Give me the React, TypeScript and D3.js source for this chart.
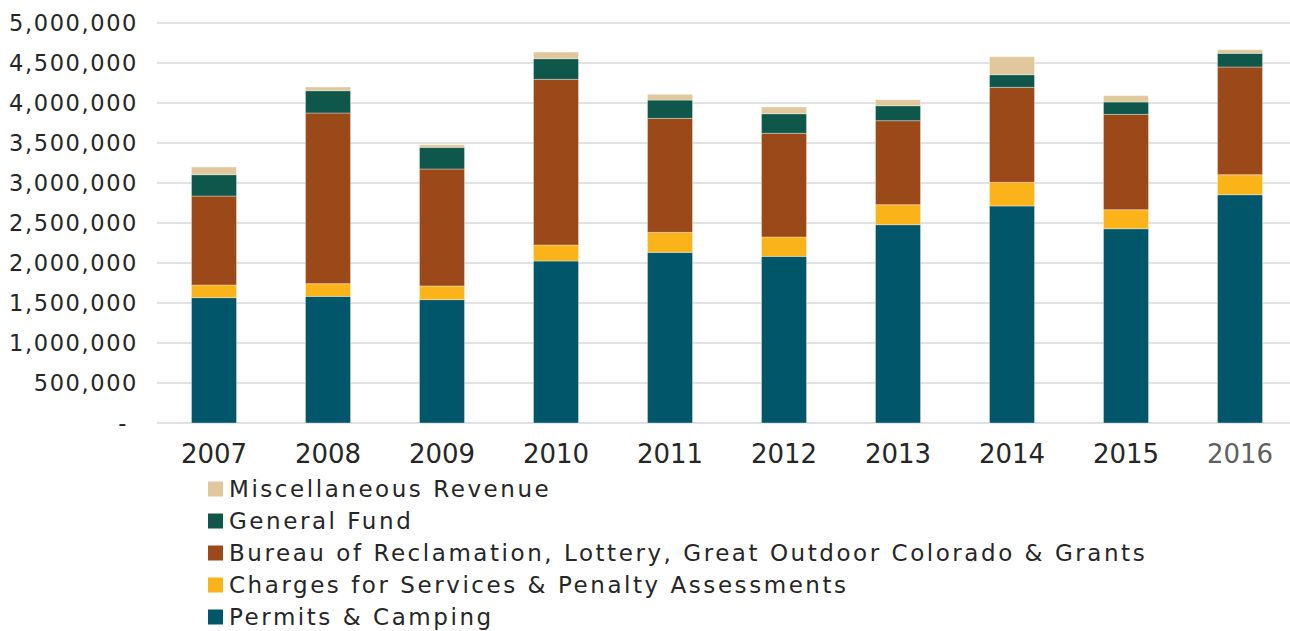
import React from "react";
import * as d3 from "d3";

const years = ["2007", "2008", "2009", "2010", "2011", "2012", "2013", "2014", "2015", "2016"];
const permitsCamping = [1567000, 1583000, 1542000, 2025000, 2133000, 2083000, 2479000, 2713000, 2429000, 2854000];
const chargesServices = [158000, 159000, 171000, 200000, 250000, 242000, 250000, 295000, 237000, 250000];
const bureauGrants = [1112000, 2133000, 1462000, 2071000, 1425000, 1296000, 1050000, 1188000, 1192000, 1346000];
const generalFund = [267000, 279000, 271000, 258000, 229000, 245000, 187000, 158000, 155000, 171000];
const miscRevenue = [96000, 46000, 33000, 83000, 71000, 84000, 75000, 225000, 79000, 45000];
const yTicks = [0, 500000, 1000000, 1500000, 2000000, 2500000, 3000000, 3500000, 4000000, 4500000, 5000000];

const seriesKeys = ["permits", "charges", "bureau", "general", "misc"];
const seriesNames: Record<string, string> = {
  permits: "Permits & Camping",
  charges: "Charges for Services & Penalty Assessments",
  bureau: "Bureau of Reclamation, Lottery, Great Outdoor Colorado & Grants",
  general: "General Fund",
  misc: "Miscellaneous Revenue",
};
const colors: Record<string, string> = {
  permits: "#02566A",
  charges: "#FAB318",
  bureau: "#9C4919",
  general: "#0E574A",
  misc: "#E0C89C",
};
const legendOrder = ["misc", "general", "bureau", "charges", "permits"];

const W = 1290;
const H = 631;

export default function App() {
  const rows = years.map((y, i) => ({
    year: y,
    permits: permitsCamping[i],
    charges: chargesServices[i],
    bureau: bureauGrants[i],
    general: generalFund[i],
    misc: miscRevenue[i],
  }));
  const stack = d3.stack<any>().keys(seriesKeys);
  const layers = stack(rows);

  const x = d3.scaleBand<string>().domain(years).range([157, 1297]).paddingInner(0.605).paddingOuter(0.3025);
  const y = d3.scaleLinear().domain([0, 5000000]).range([423, 23]);
  const fmt = d3.format(",");
  const font = "'DejaVu Sans', Verdana, sans-serif";

  return (
    <svg width={W} height={H} style={{ position: "absolute", left: 0, top: 0, background: "#fff" }}>
      <g>
        {yTicks.map((t) => (
          <line key={t} x1={157} x2={W} y1={y(t)} y2={y(t)} stroke="#d9d9d9" strokeWidth={1.5} />
        ))}
      </g>
      <g fontFamily={font} fontSize={22.5} fill="#262626" letterSpacing={1.6}>
        {yTicks.map((t) => (
          <text key={t} x={t === 0 ? 128 : 138} y={y(t)} dy="0.36em" textAnchor="end">
            {t === 0 ? "-" : fmt(t)}
          </text>
        ))}
      </g>
      <g>
        {layers.map((layer) => (
          <g key={layer.key} fill={colors[layer.key]}>
            {layer.map((d, i) => (
              <rect
                key={i}
                x={x(years[i])}
                y={y(d[1])}
                width={x.bandwidth()}
                height={y(d[0]) - y(d[1])}
                stroke="rgba(255,255,255,0.35)"
                strokeWidth={1}
              />
            ))}
          </g>
        ))}
      </g>
      <g fontFamily={font} fontSize={26}>
        {years.map((yr, i) => (
          <text
            key={yr}
            x={(x(yr) as number) + x.bandwidth() / 2}
            y={462.5}
            textAnchor="middle"
            fill={i === years.length - 1 ? "#606060" : "#262626"}
          >
            {yr}
          </text>
        ))}
      </g>
      <g fontFamily={font} fontSize={23} fill="#262626" letterSpacing={2.55}>
        {legendOrder.map((k, i) => (
          <g key={k} transform={`translate(0, ${489 + i * 32})`}>
            <rect x={208} y={-7.5} width={15} height={15} fill={colors[k]} />
            <text x={229} y={0} dy="0.36em">
              {seriesNames[k]}
            </text>
          </g>
        ))}
      </g>
    </svg>
  );
}
